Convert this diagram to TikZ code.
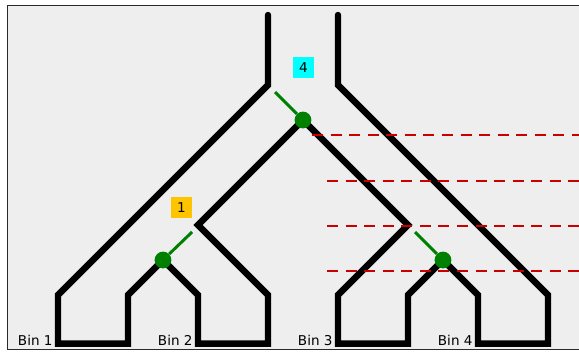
\documentclass[tikz,border=0pt]{standalone}
\usepackage{fontspec}
\setmainfont{DejaVu Sans}

\definecolor{panelgray}{HTML}{EEEEEE}
\definecolor{framegray}{HTML}{2A2A2A}
\definecolor{cutred}{HTML}{C80000}
\definecolor{leafgreen}{HTML}{008000}
\definecolor{tagorange}{HTML}{FFC400}
\definecolor{tagcyan}{HTML}{00FFFF}

\begin{document}
\begin{tikzpicture}[
    wall/.style={line width=5.2pt, line cap=round, line join=miter},
    cutline/.style={cutred, line width=1.6pt, dash pattern=on 8.9pt off 6.2pt},
    splitdot/.style={circle, fill=leafgreen, minimum size=0.48cm, inner sep=0pt},
    pointer/.style={leafgreen, line width=2.4pt},
    tagbox/.style={minimum size=0.6cm, inner sep=0pt, font=\fontsize{11}{13}\selectfont},
    binlabel/.style={anchor=base east, inner sep=0pt, font=\fontsize{11}{13}\selectfont}]
    \useasboundingbox (-1.657,-1.6) rectangle (14.886,8.429);
    % panel, cut off on the right
    \begin{scope}
        \clip (-1.657,-1.6) rectangle (14.886,8.429);
        \draw[framegray, fill=panelgray, line width=1pt] (-1.443,-1.557) rectangle (15.5,8.271);
    \end{scope}
    % channel walls
    \draw[wall] (6,8) -- (6,6) -- (0,0) -- (0,-1.39) -- (2,-1.39) -- (2,0) -- (3,1) -- (4,0)
        -- (4,-1.39) -- (6,-1.39) -- (6,0) -- (4,2) -- (7,5) -- (10,2) -- (8,0) -- (8,-1.39)
        -- (10,-1.39) -- (10,0) -- (11,1) -- (12,0) -- (12,-1.39) -- (14,-1.39) -- (14,0)
        -- (8,6) -- (8,8);
    % levels
    \draw[cutline] (7.257,4.571) -- (14.886,4.571);
    \draw[cutline] (7.686,3.257) -- (14.886,3.257);
    \draw[cutline] (7.686,1.971) -- (14.886,1.971);
    \draw[cutline] (7.686,0.686) -- (14.886,0.686);
    % splitters
    \node[splitdot] (split1) at (3,1) {};
    \node[splitdot] (split4) at (7,5) {};
    \node[splitdot] (split3) at (11,1) {};
    \coordinate (tip1) at (3.83,1.8);
    \coordinate (tip4) at (6.2,5.8);
    \coordinate (tip3) at (10.2,1.8);
    \draw[pointer] (split1) -- (tip1);
    \draw[pointer] (split4) -- (tip4);
    \draw[pointer] (split3) -- (tip3);
    \node[tagbox, fill=tagorange] (tag1) at (3.53,2.5) {1};
    \node[tagbox, fill=tagcyan] (tag4) at (7.01,6.5) {4};
    % bins
    \node[binlabel] (bin1) at (-0.15,-1.43) {Bin 1};
    \node[binlabel] (bin2) at (3.85,-1.43) {Bin 2};
    \node[binlabel] (bin3) at (7.85,-1.43) {Bin 3};
    \node[binlabel] (bin4) at (11.85,-1.43) {Bin 4};
\end{tikzpicture}
\end{document}
